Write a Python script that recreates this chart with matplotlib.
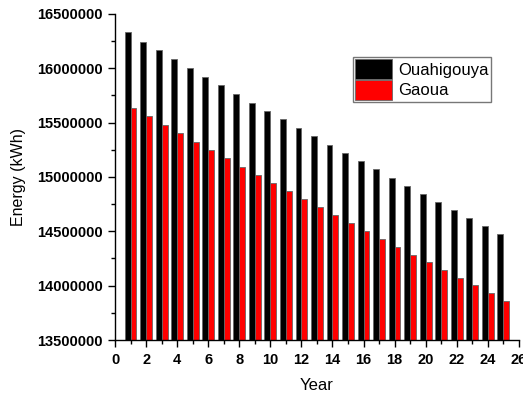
import numpy as np
import matplotlib.pyplot as plt
from matplotlib.ticker import MultipleLocator

plt.rcParams["font.family"] = ["Liberation Sans", "DejaVu Sans"]

years = np.arange(1, 26)
ouahigouya = [16328000, 16245000, 16166000, 16083000, 16006000, 15923000, 15844000,
              15761000, 15684000, 15604000, 15531000, 15451000, 15377000, 15297000,
              15221000, 15147000, 15071000, 14994000, 14917000, 14844000, 14770000,
              14696000, 14623000, 14552000, 14478000]
gaoua = [15632000, 15559000, 15476000, 15402000, 15322000, 15246000, 15172000,
         15092000, 15021000, 14948000, 14871000, 14794000, 14721000, 14650000,
         14574000, 14500000, 14427000, 14353000, 14285000, 14215000, 14142000,
         14071000, 14004000, 13930000, 13862000]

fig = plt.figure(figsize=(5.23, 3.94), dpi=100)
ax = fig.add_axes([0.22, 0.137, 0.772, 0.828])

w = 0.38
ax.bar(years - w / 2, ouahigouya, width=w, color="black", edgecolor="#666666",
       linewidth=0.6, label="Ouahigouya")
ax.bar(years + w / 2, gaoua, width=w, color="red", edgecolor="#666666",
       linewidth=0.6, label="Gaoua")

ax.set_xlim(0, 26)
ax.set_ylim(13500000, 16500000)
ax.xaxis.set_major_locator(MultipleLocator(2))
ax.xaxis.set_minor_locator(MultipleLocator(1))
ax.yaxis.set_major_locator(MultipleLocator(500000))
ax.yaxis.set_minor_locator(MultipleLocator(250000))
ax.ticklabel_format(axis="y", style="plain", useOffset=False)

for side in ["top", "right"]:
    ax.spines[side].set_visible(False)
for side in ["left", "bottom"]:
    ax.spines[side].set_color("black")
    ax.spines[side].set_linewidth(1.0)

ax.tick_params(which="major", direction="out", length=5, width=1, labelsize=10.5, pad=4)
ax.tick_params(which="minor", direction="out", length=3, width=1)
for lbl in ax.get_xticklabels() + ax.get_yticklabels():
    lbl.set_fontweight("bold")

ax.set_xlabel("Year", fontsize=12, labelpad=8)
ax.set_ylabel("Energy (kWh)", fontsize=11.5, labelpad=8)

leg = ax.legend(loc="upper left", bbox_to_anchor=(0.589, 0.868), fontsize=12,
                fancybox=False, framealpha=1, edgecolor="#777777",
                handlelength=2.2, handleheight=1.4, handletextpad=0.35,
                labelspacing=0.1, borderpad=0.15, borderaxespad=0)
leg.get_frame().set_linewidth(1.0)

fig.savefig("out.png", dpi=100)
